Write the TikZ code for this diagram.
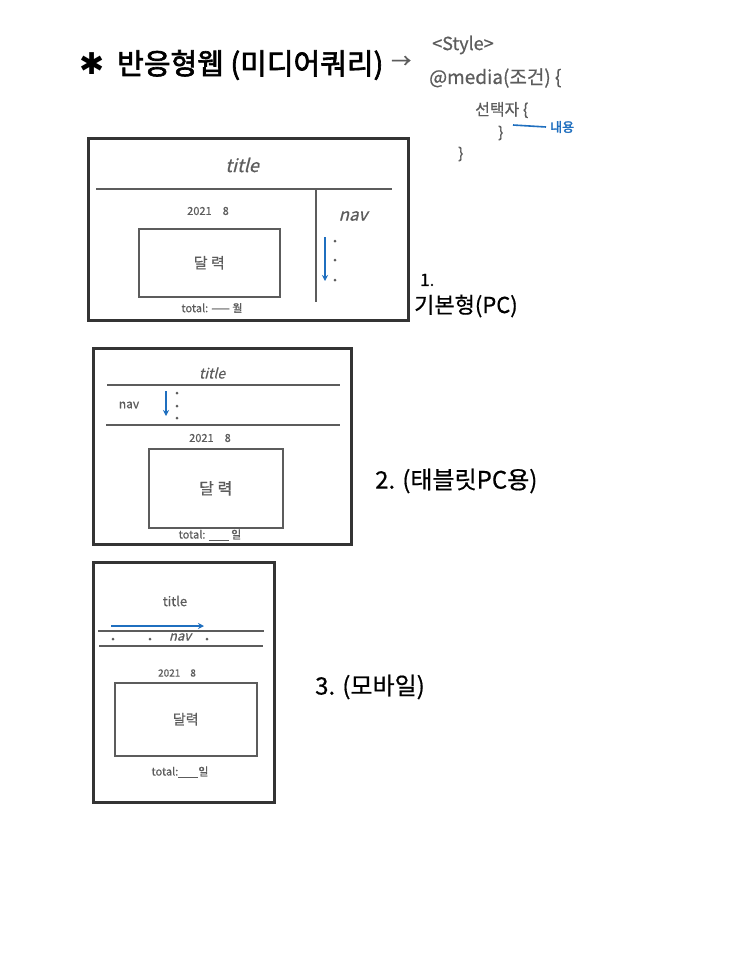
\documentclass[tikz,border=0pt]{standalone}
\usepackage{fontspec}
\setmainfont[FakeBold=0.6]{Noto Sans CJK KR}
\newfontfamily\krslant[FakeSlant=0.25,FakeBold=0.6]{Noto Sans CJK KR}
\newfontfamily\krbold[FakeBold=2.2]{Noto Sans CJK KR}
\newfontfamily\symfont{DejaVu Sans}
\usetikzlibrary{arrows.meta}
\definecolor{frame}{HTML}{343434}
\definecolor{ink}{HTML}{5C5C5C}
\definecolor{bluepen}{HTML}{1F6FBF}
\tikzset{
  outerbox/.style={draw=frame, line width=3pt},
  innerline/.style={draw=ink, line width=1.6pt},
  txt/.style={text=ink, inner sep=0pt},
  bluearrow/.style={draw=bluepen, line width=1.6pt, -{Stealth[length=6pt,width=6pt]}},
  navdot/.style={circle, fill=ink, inner sep=0pt, minimum size=3pt},
  fs/.style={font=\fontsize{#1}{#1}\selectfont}
}
\begin{document}
\begin{tikzpicture}[x=1pt,y=-1pt]
\useasboundingbox[fill=white] (0,0) rectangle (743,959);

% heading
\node[inner sep=0pt, fs=30] (star) at (92,64) {\symfont ✱};
\node[anchor=west, inner sep=0pt, fs=29] (head) at (117,65) {\krbold 반응형웹 (미디어쿼리)};
\node[anchor=west, txt, fs=20] (harrow) at (391,62) {→};

% code
\node[anchor=west, txt, fs=18] (style) at (432,45) {<Style>};
\node[anchor=west, txt, fs=19] (media) at (429,78) {@media(조건) \{};
\node[anchor=west, txt, fs=16] (sel) at (475,110) {선택자 \{};
\node[anchor=west, txt, fs=15] (close1) at (498,133) {\}};
\coordinate (bl1) at (513,125);
\node[anchor=west, inner sep=0pt, text=bluepen, fs=13] (content) at (550,127) {\krbold 내용};
\draw[draw=bluepen, line width=1.6pt] (bl1) -- ([xshift=-4pt]content.west);
\node[anchor=west, txt, fs=15] (close2) at (458,154) {\}};

% ---- box 1
\node[outerbox, minimum width=320pt, minimum height=182pt, anchor=north west, inner sep=0pt] (b1) at (87,137) {};
\coordinate (b1l) at (96,189); \coordinate (b1r) at (392,189);
\draw[innerline] (b1l) -- (b1r);
\coordinate (b1vt) at (316,189); \coordinate (b1vb) at (316,302);
\draw[innerline] (b1vt) -- (b1vb);
\node[txt, fs=18] (t1) at (242,165) {\krslant title};
\node[txt, fs=11] (d1) at (208,211) {2021\quad 8};
\node[innerline, minimum width=141pt, minimum height=68pt, anchor=north west, inner sep=0pt] (c1) at (138,228) {};
\node[txt, fs=15] (cal1) at (c1.center) {달 력};
\node[txt, fs=11] (tot1) at (212,308) {total: —— 월};
\node[txt, fs=17] (nav1) at (353,216) {\krslant nav};
\coordinate (a1s) at (325,237); \coordinate (a1e) at (325,281);
\draw[bluearrow] (a1s) -- (a1e);
\node[navdot] (n1a) at (335,241) {};
\node[navdot] (n1b) at (335,260) {};
\node[navdot] (n1c) at (335,280) {};
\node[anchor=west, inner sep=0pt, fs=17] (lab1a) at (420,280) {1.};
\node[anchor=west, inner sep=0pt, fs=22] (lab1b) at (414,306) {기본형(PC)};

% ---- box 2
\node[outerbox, minimum width=258pt, minimum height=196pt, anchor=north west, inner sep=0pt] (b2) at (92,347) {};
\node[txt, fs=14] (t2) at (212,373) {\krslant title};
\coordinate (b2l1) at (107,385); \coordinate (b2r1) at (340,385);
\draw[innerline] (b2l1) -- (b2r1);
\node[txt, fs=12] (nav2) at (129,405) {nav};
\coordinate (a2s) at (166,391); \coordinate (a2e) at (166,416);
\draw[bluearrow] (a2s) -- (a2e);
\node[navdot] (n2a) at (177,393) {};
\node[navdot] (n2b) at (177,406) {};
\node[navdot] (n2c) at (177,418) {};
\coordinate (b2l2) at (106,425); \coordinate (b2r2) at (340,425);
\draw[innerline] (b2l2) -- (b2r2);
\node[txt, fs=11] (d2) at (210,438) {2021\quad 8};
\node[innerline, minimum width=134pt, minimum height=79pt, anchor=north west, inner sep=0pt] (c2) at (148,448) {};
\node[txt, fs=16] (cal2) at (c2.center) {달 력};
\node[txt, fs=11] (tot2) at (210,535) {total: \underline{\hspace{20pt}} 일};
\node[anchor=west, inner sep=0pt, fs=24] (lab2) at (375,481) {2. (태블릿PC용)};

% ---- box 3
\node[outerbox, minimum width=181pt, minimum height=240pt, anchor=north west, inner sep=0pt] (b3) at (92,561) {};
\node[txt, fs=13] (t3) at (175,601) {title};
\coordinate (a3s) at (111,626); \coordinate (a3e) at (204,626);
\draw[bluearrow] (a3s) -- (a3e);
\coordinate (b3l1) at (98,631); \coordinate (b3r1) at (264,631);
\draw[innerline] (b3l1) -- (b3r1);
\node[navdot] (n3a) at (113,639) {};
\node[navdot] (n3b) at (150,639) {};
\node[txt, fs=13] (nav3) at (180,637) {\krslant nav};
\node[navdot] (n3c) at (207,639) {};
\coordinate (b3l2) at (99,646); \coordinate (b3r2) at (263,646);
\draw[innerline] (b3l2) -- (b3r2);
\node[txt, fs=10] (d3) at (177,673) {2021\quad 8};
\node[innerline, minimum width=142pt, minimum height=73pt, anchor=north west, inner sep=0pt] (c3) at (114,682) {};
\node[txt, fs=14] (cal3) at (c3.center) {달력};
\node[txt, fs=11] (tot3) at (180,772) {total:\underline{\hspace{20pt}}일};
\node[anchor=west, inner sep=0pt, fs=24] (lab3) at (315,687) {3. (모바일)};
\end{tikzpicture}
\end{document}
